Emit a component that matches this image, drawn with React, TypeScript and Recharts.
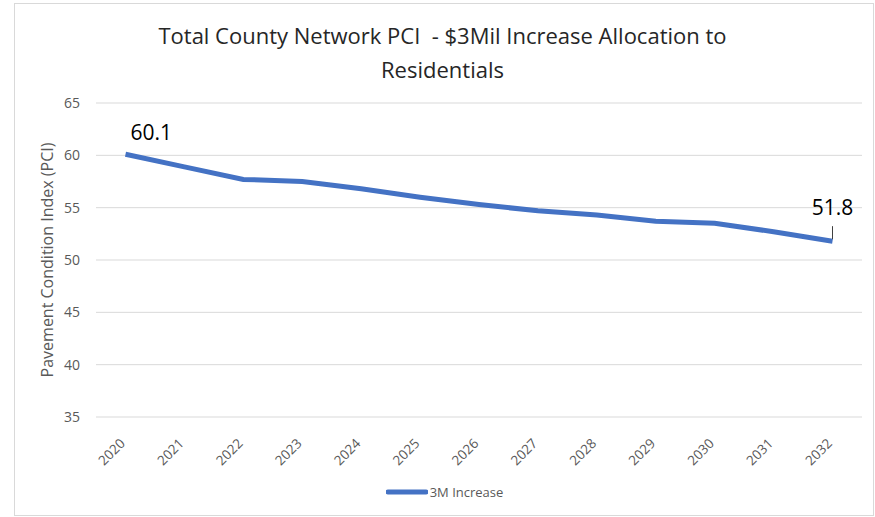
import React from 'react';
import { LineChart, Line, XAxis, YAxis, CartesianGrid, Legend, LabelList } from 'recharts';

const years = ['2020', '2021', '2022', '2023', '2024', '2025', '2026', '2027', '2028', '2029', '2030', '2031', '2032'];
const pci = [60.1, 58.9, 57.7, 57.5, 56.8, 56.0, 55.3, 54.7, 54.3, 53.7, 53.5, 52.7, 51.8];
const yTicks = [35, 40, 45, 50, 55, 60, 65];

const seriesName = '3M Increase';
const titleLines = ['Total County Network PCI  - $3Mil Increase Allocation to', 'Residentials'];

const data = years.map((year, i) => ({ year, value: pci[i] }));

const FONT = '"Open Sans", sans-serif';
const BLUE = '#4472c4';
const GREY_TEXT = '#595959';

const XTick = (props: any) => {
  const { x, y, payload } = props;
  return (
    <g transform={`translate(${x - 3},${y + 16}) rotate(-45)`}>
      <text textAnchor="end" dy="0.35em" fontSize={13.5} fill={GREY_TEXT} fontFamily={FONT}>
        {payload.value}
      </text>
    </g>
  );
};

// only the first and last points carry a value label
const PointLabel = (props: any) => {
  const { x, y, value, index } = props;
  if (index === 0) {
    return (
      <text x={x + 5} y={y - 14} fontSize={21} fill="#000" fontFamily={FONT}>
        {value.toFixed(1)}
      </text>
    );
  }
  if (index === pci.length - 1) {
    return (
      <g>
        <line x1={x} y1={y - 2} x2={x} y2={y - 15} stroke="#404040" strokeWidth={1} />
        <text x={x} y={y - 26} textAnchor="middle" fontSize={21} fill="#000" fontFamily={FONT}>
          {value.toFixed(1)}
        </text>
      </g>
    );
  }
  return null;
};

const LegendContent = () => (
  <div style={{ display: 'flex', justifyContent: 'center', alignItems: 'center', fontFamily: FONT, fontSize: 13, color: GREY_TEXT, paddingLeft: 14 }}>
    <svg width={42} height={8}>
      <line x1={2} y1={4} x2={40} y2={4} stroke={BLUE} strokeWidth={5} strokeLinecap="round" />
    </svg>
    <span style={{ marginLeft: 2 }}>{seriesName}</span>
  </div>
);

export default function App() {
  return (
    <div style={{ position: 'absolute', left: 0, top: 0, width: 875, height: 517, background: '#fff' }}>
      <div style={{ position: 'absolute', left: 14, top: 3, width: 860, height: 513, border: '1px solid #d9d9d9', boxSizing: 'border-box' }} />
      {titleLines.map((t, i) => (
        <div
          key={i}
          style={{
            position: 'absolute', left: 0, width: 885, top: 21 + i * 34, textAlign: 'center',
            fontFamily: FONT, fontSize: 22, color: '#262626', whiteSpace: 'pre', lineHeight: '28px',
          }}
        >
          {t}
        </div>
      ))}
      <div
        style={{
          position: 'absolute', left: 47, top: 260, transform: 'translate(-50%, -50%) rotate(-90deg)',
          fontFamily: FONT, fontSize: 16, color: GREY_TEXT, whiteSpace: 'nowrap',
        }}
      >
        Pavement Condition Index (PCI)
      </div>
      <LineChart width={875} height={517} data={data} margin={{ top: 103, right: 13, bottom: 70, left: 0 }} style={{ position: 'absolute', left: 0, top: 0 }}>
        <CartesianGrid vertical={false} stroke="#d9d9d9" />
        <XAxis
          dataKey="year"
          height={30}
          axisLine={false}
          tickLine={false}
          tick={<XTick />}
          interval={0}
          padding={{ left: 29.5, right: 29.5 }}
        />
        <YAxis
          width={96}
          domain={[35, 65]}
          ticks={yTicks}
          axisLine={false}
          tickLine={false}
          tickSize={0}
          tickMargin={16}
          tick={{ fontSize: 14, fill: GREY_TEXT, fontFamily: FONT }}
        />
        <Legend
          verticalAlign="middle"
          align="center"
          layout="horizontal"
          content={<LegendContent />}
          wrapperStyle={{ top: 483, left: 0, width: 875 }}
        />
        <Line
          type="linear"
          dataKey="value"
          name={seriesName}
          stroke={BLUE}
          strokeWidth={5}
          dot={false}
          activeDot={false}
          isAnimationActive={false}
        >
          <LabelList dataKey="value" content={<PointLabel />} />
        </Line>
      </LineChart>
    </div>
  );
}
